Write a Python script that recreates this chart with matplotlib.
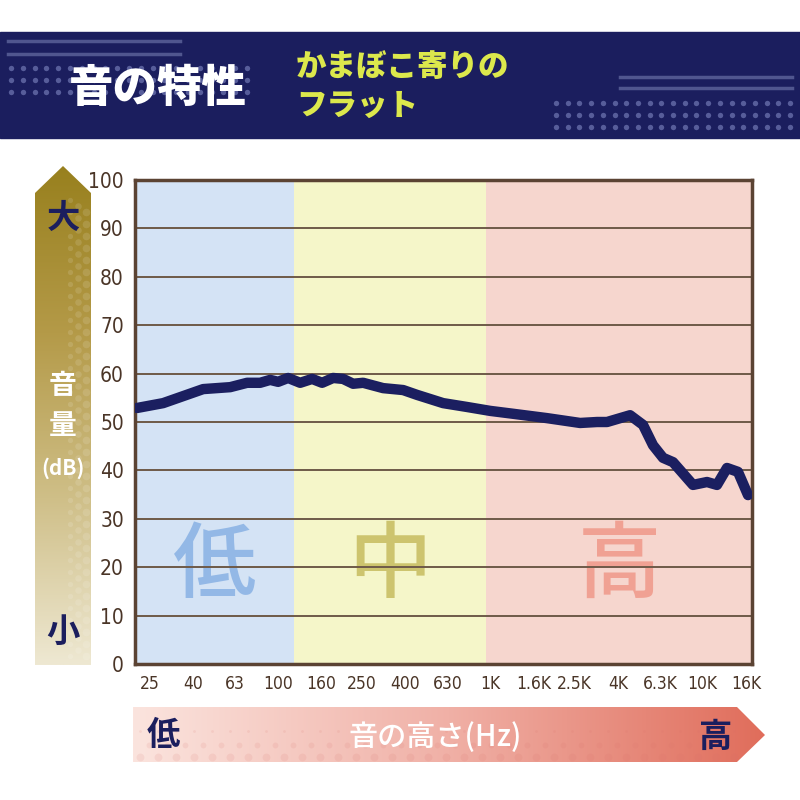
import numpy as np
import matplotlib
matplotlib.use('Agg')
import matplotlib.pyplot as plt
from matplotlib.patches import Polygon, Rectangle
from matplotlib.colors import LinearSegmentedColormap

plt.rcParams['font.family'] = ['Noto Sans CJK JP', 'DejaVu Sans']

# --- data -------------------------------------------------------------
freq_ticks = [25, 40, 63, 100, 160, 250, 400, 630, 1000, 1600, 2500, 4000, 6300, 10000, 16000]
freq_labels = ['25', '40', '63', '100', '160', '250', '400', '630', '1K', '1.6K',
               '2.5K', '4K', '6.3K', '10K', '16K']
db_ticks = list(range(0, 101, 10))

curve_freq = [21.8, 28.9, 44.6, 59.8, 71.8, 82.7, 92.2, 100.5, 112, 127.6, 145.3, 161.9,
              182.5, 203.3, 226.6, 252.6, 313.6, 389.7, 453.3, 601, 779.6, 1000, 1283,
              1854, 2653, 3190, 3553, 4560, 5248, 5848, 6519, 7266, 9021, 10500, 11700,
              13040, 14690, 16380]
curve_db = [52.9, 53.9, 56.8, 57.2, 58.1, 58.1, 58.7, 58.3, 59.1, 58.1, 58.9, 58.1,
            59.1, 58.9, 57.9, 58.1, 57.0, 56.6, 55.6, 53.9, 53.1, 52.3, 51.7,
            50.8, 49.8, 50.0, 50.0, 51.4, 49.4, 45.2, 42.6, 41.7, 37.0, 37.6, 37.0,
            40.5, 39.7, 34.9]

band_edges = [21.3, 120, 957, 17100]
band_names = ['低', '中', '高']
band_colors = ['#d4e3f5', '#f5f6c9', '#f6d6ce']
band_text_colors = ['#93b8e6', '#cdc46e', '#f0a193']

title = '音の特性'
subtitle = 'かまぼこ寄りの\nフラット'

NAVY = '#1b1e5e'
BROWN = '#5b4333'

fig = plt.figure(figsize=(8, 8), dpi=100)

# overlay in pixel coords for the decorations
deco = fig.add_axes([0, 0, 1, 1])
deco.set_xlim(0, 800)
deco.set_ylim(800, 0)
deco.axis('off')

# header band
deco.add_patch(Rectangle((0, 32), 800, 106, color=NAVY, zorder=1))
for yy in (41, 54):
    deco.plot([8, 180], [yy, yy], color='#50568f', lw=2.5, zorder=2)
for yy in (77, 88):
    deco.plot([620, 792], [yy, yy], color='#50568f', lw=2.5, zorder=2)
dx = np.arange(11, 250, 11.8)
for yy in (68, 80, 92):
    deco.scatter(dx, np.full_like(dx, yy), s=15, color='#575d9a', lw=0, zorder=2)
dx = np.arange(556, 792, 11.7)
for yy in (103, 115, 127):
    deco.scatter(dx, np.full_like(dx, yy), s=15, color='#575d9a', lw=0, zorder=2)

deco.text(158, 88, title, color='white', fontsize=32, fontweight='black',
          ha='center', va='center', zorder=3)
deco.text(296, 86, subtitle, color='#dce84c', fontsize=22, fontweight='black',
          ha='left', va='center', linespacing=1.3, zorder=3)

# left arrow (volume)
cmap_v = LinearSegmentedColormap.from_list('v', ['#98801e', '#b49a48', '#cfbf88', '#eee8d2'])
grad = np.linspace(0, 1, 256).reshape(-1, 1)
im = deco.imshow(grad, cmap=cmap_v, extent=[35, 91, 665, 166], aspect='auto', zorder=1)
arrow_v = Polygon([(35, 665), (35, 193), (63, 166), (91, 193), (91, 665)],
                  closed=True, facecolor='none', edgecolor='none')
deco.add_patch(arrow_v)
im.set_clip_path(arrow_v)
for i, xx in enumerate((70, 78, 86)):
    yy = np.arange(200 + 6 * i, 660, 12)
    deco.scatter(np.full_like(yy, xx, dtype=float), yy, s=14 + 8 * i,
                 color='white', alpha=0.12, lw=0, zorder=2)
deco.text(63, 218, '大', color=NAVY, fontsize=24, fontweight='bold',
          ha='center', va='center', zorder=3)
deco.text(63, 632, '小', color=NAVY, fontsize=24, fontweight='bold',
          ha='center', va='center', zorder=3)
deco.text(63, 386, '音', color='white', fontsize=20, fontweight='bold',
          ha='center', va='center', zorder=3)
deco.text(63, 426, '量', color='white', fontsize=20, fontweight='bold',
          ha='center', va='center', zorder=3)
deco.text(63, 468, '(dB)', color='white', fontsize=15, fontweight='bold',
          ha='center', va='center', zorder=3)

# bottom arrow (pitch)
cmap_h = LinearSegmentedColormap.from_list('h', ['#fbe4de', '#f0b0a6', '#e06d5b'])
grad_h = np.linspace(0, 1, 256).reshape(1, -1)
im2 = deco.imshow(grad_h, cmap=cmap_h, extent=[133, 765, 762, 707], aspect='auto', zorder=1)
arrow_h = Polygon([(133, 707), (737, 707), (765, 735), (737, 762), (133, 762)],
                  closed=True, facecolor='none', edgecolor='none')
deco.add_patch(arrow_h)
im2.set_clip_path(arrow_h)
for j, yy in enumerate((731, 745, 757)):
    xx = np.arange(140 + 9 * (j % 2), 740, 18)
    deco.scatter(xx, np.full_like(xx, yy, dtype=float), s=4 + 14 * j,
                 color='#d8706a', alpha=0.12, lw=0, zorder=2)
deco.text(163, 735, '低', color=NAVY, fontsize=24, fontweight='bold',
          ha='center', va='center', zorder=3)
deco.text(716, 737, '高', color=NAVY, fontsize=24, fontweight='bold',
          ha='center', va='center', zorder=3)
deco.text(435, 737, '音の高さ(Hz)', color='white', fontsize=21, fontweight='medium',
          ha='center', va='center', zorder=3)

# --- main chart ---------------------------------------------------------
ax = fig.add_axes([135 / 800, 136 / 800, 617 / 800, 484 / 800])
ax.set_xscale('log')
ax.set_xlim(band_edges[0], band_edges[-1])
ax.set_ylim(0, 100)

for i in range(3):
    ax.axvspan(band_edges[i], band_edges[i + 1], color=band_colors[i], lw=0, zorder=0.1)
    xc = np.sqrt(band_edges[i] * band_edges[i + 1])
    ax.text(xc, 20, band_names[i], color=band_text_colors[i], fontsize=60,
            fontweight='medium', ha='center', va='center', zorder=0.3)

ax.set_yticks(db_ticks)
ax.grid(axis='y', color='#6e5a48', lw=1.4)
ax.grid(axis='x', visible=False)
ax.set_axisbelow(True)

ax.plot(curve_freq, curve_db, color='#1b1f60', lw=7.5, solid_joinstyle='round',
        solid_capstyle='round', zorder=3)

ax.set_xticks(freq_ticks)
ax.set_xticklabels(freq_labels)
ax.xaxis.set_minor_locator(matplotlib.ticker.NullLocator())
ax.tick_params(axis='both', length=0, colors='#4a3527')
ax.tick_params(axis='y', labelsize=15, pad=8)
ax.tick_params(axis='x', labelsize=12.5, pad=8)
for lab in ax.get_yticklabels() + ax.get_xticklabels():
    lab.set_fontstretch('condensed')
    lab.set_family(['DejaVu Sans'])

for sp in ax.spines.values():
    sp.set_color(BROWN)
    sp.set_linewidth(2.5)

fig.savefig('out.png', dpi=100, facecolor='white')
